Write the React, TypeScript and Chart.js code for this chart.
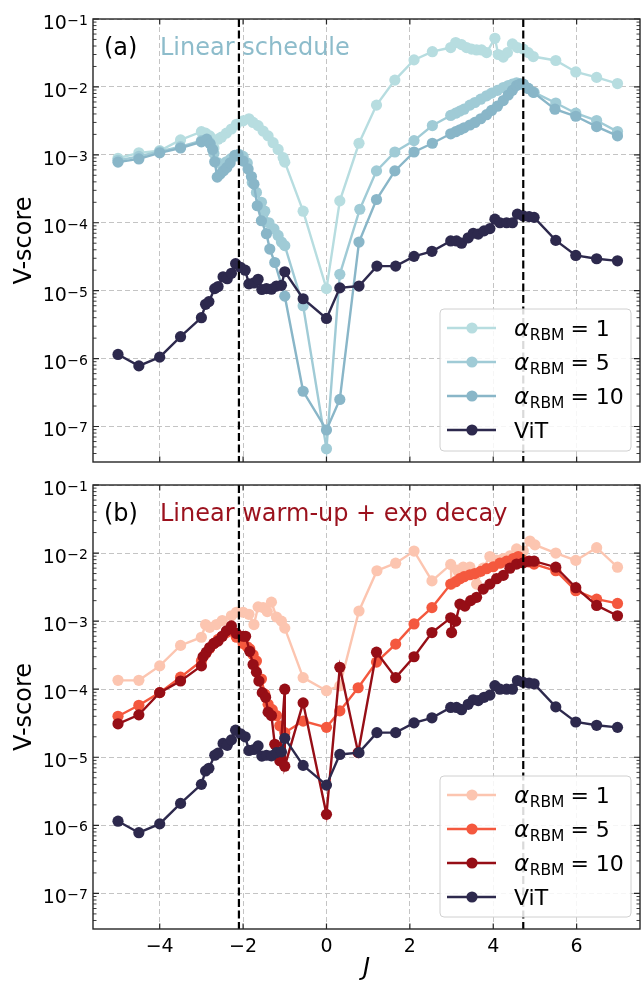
import React, { useEffect, useRef } from "react";
import { Chart, registerables } from "chart.js";

Chart.register(...registerables);

// ---------------- data ----------------
const VIT_J = [-5, -4.5, -4, -3.5, -3, -2.9, -2.82, -2.68, -2.6, -2.48, -2.38, -2.28, -2.18, -2.06, -1.95, -1.86, -1.74, -1.64, -1.55, -1.44, -1.32, -1.2, -1.08, -1.0, -0.56, 0, 0.32, 0.78, 1.21, 1.66, 2.1, 2.53, 2.98, 3.12, 3.24, 3.4, 3.52, 3.64, 3.78, 3.92, 4.04, 4.16, 4.32, 4.46, 4.58, 4.72, 4.86, 4.98, 5.5, 5.98, 6.48, 6.98];
const VIT_V = [1.15e-6, 7.8e-7, 1.05e-6, 2.1e-6, 4.0e-6, 6.3e-6, 6.9e-6, 1.07e-5, 1.15e-5, 1.6e-5, 1.5e-5, 1.8e-5, 2.5e-5, 2.2e-5, 2.0e-5, 1.26e-5, 1.3e-5, 1.47e-5, 1.04e-5, 1.07e-5, 1.05e-5, 1.17e-5, 1.2e-5, 1.9e-5, 7.6e-6, 3.9e-6, 1.1e-5, 1.17e-5, 2.3e-5, 2.3e-5, 3.2e-5, 3.8e-5, 5.4e-5, 5.4e-5, 5.0e-5, 6.0e-5, 7.0e-5, 6.8e-5, 7.6e-5, 8.2e-5, 1.13e-4, 1.0e-4, 1.0e-4, 1.0e-4, 1.34e-4, 1.26e-4, 1.23e-4, 1.2e-4, 5.5e-5, 3.3e-5, 2.95e-5, 2.75e-5];

// (a) linear schedule
const LIN_A1_J = [-5, -4.5, -4, -3.5, -3, -2.9, -2.8, -2.7, -2.6, -2.52, -2.4, -2.28, -2.16, -2.0, -1.86, -1.76, -1.64, -1.52, -1.4, -1.28, -1.16, -1.04, -1.0, -0.56, 0, 0.32, 0.78, 1.2, 1.64, 2.1, 2.54, 2.98, 3.1, 3.24, 3.36, 3.48, 3.6, 3.72, 3.84, 4.04, 4.12, 4.24, 4.34, 4.46, 4.58, 4.72, 4.84, 4.96, 5.5, 5.98, 6.48, 6.98];
const LIN_A1_V = [8.9e-4, 1.07e-3, 1.15e-3, 1.66e-3, 2.19e-3, 2.09e-3, 1.9e-3, 1.26e-3, 1.7e-3, 1.82e-3, 2.09e-3, 2.4e-3, 2.82e-3, 3.16e-3, 3.39e-3, 3.0e-3, 2.69e-3, 2.24e-3, 1.9e-3, 1.51e-3, 1.2e-3, 9.1e-4, 7.8e-4, 1.48e-4, 1.07e-5, 2.1e-4, 1.48e-3, 5.4e-3, 1.26e-2, 2.5e-2, 3.3e-2, 3.8e-2, 4.5e-2, 4.2e-2, 3.8e-2, 3.6e-2, 3.5e-2, 3.5e-2, 3.2e-2, 5.2e-2, 3.0e-2, 2.75e-2, 3.2e-2, 4.3e-2, 3.8e-2, 3.6e-2, 3.2e-2, 2.8e-2, 2.45e-2, 1.66e-2, 1.38e-2, 1.12e-2];
const LIN_A5_J = [-5, -4.5, -4, -3.5, -3, -2.9, -2.8, -2.7, -2.6, -2.5, -2.4, -2.3, -2.2, -2.1, -2.0, -1.9, -1.78, -1.68, -1.56, -1.48, -1.38, -1.26, -1.16, -1.08, -1.0, -0.56, 0, 0.32, 0.8, 1.2, 1.64, 2.1, 2.54, 2.98, 3.1, 3.2, 3.3, 3.44, 3.56, 3.7, 3.84, 3.96, 4.1, 4.24, 4.36, 4.46, 4.56, 4.64, 4.72, 4.84, 4.98, 5.5, 5.98, 6.48, 6.98];
const LIN_A5_V = [8.3e-4, 9.5e-4, 1.12e-3, 1.32e-3, 1.62e-3, 1.66e-3, 1.51e-3, 1.05e-3, 7.6e-4, 7.1e-4, 7.9e-4, 8.7e-4, 9.5e-4, 1.02e-3, 9.5e-4, 7.6e-4, 3.9e-4, 2.8e-4, 2.0e-4, 1.48e-4, 1.0e-4, 8.1e-5, 6.5e-5, 5.2e-5, 4.6e-5, 6.0e-6, 4.7e-8, 1.74e-5, 1.58e-4, 5.8e-4, 1.1e-3, 1.62e-3, 2.7e-3, 3.8e-3, 4.1e-3, 4.4e-3, 4.7e-3, 5.4e-3, 5.9e-3, 6.6e-3, 7.4e-3, 8.1e-3, 8.9e-3, 9.8e-3, 1.05e-2, 1.1e-2, 1.15e-2, 1.12e-2, 1.1e-2, 9.5e-3, 8.3e-3, 5.8e-3, 4.1e-3, 3.2e-3, 2.2e-3];
const LIN_A10_J = [-5, -4.5, -4, -3.5, -3, -2.87, -2.79, -2.73, -2.68, -2.62, -2.55, -2.47, -2.39, -2.31, -2.2, -2.12, -2.0, -1.88, -1.8, -1.74, -1.66, -1.56, -1.44, -1.36, -1.24, -1.0, -0.56, 0, 0.32, 0.78, 1.2, 1.64, 2.1, 2.54, 2.98, 3.1, 3.2, 3.3, 3.44, 3.56, 3.7, 3.84, 3.96, 4.1, 4.24, 4.36, 4.46, 4.56, 4.64, 4.72, 4.84, 4.96, 5.48, 5.98, 6.48, 6.98];
const LIN_A10_V = [7.8e-4, 8.7e-4, 1.07e-3, 1.26e-3, 1.55e-3, 1.7e-3, 1.45e-3, 1.2e-3, 7.9e-4, 4.7e-4, 5.2e-4, 5.8e-4, 6.5e-4, 7.6e-4, 9.8e-4, 1.0e-3, 8.1e-4, 6.2e-4, 4.8e-4, 3.7e-4, 1.78e-4, 1.07e-4, 6.9e-5, 4.1e-5, 2.6e-5, 8.3e-6, 3.3e-7, 8.9e-8, 2.5e-7, 5.2e-5, 2.2e-4, 5.8e-4, 1.1e-3, 1.48e-3, 2.04e-3, 2.19e-3, 2.34e-3, 2.5e-3, 2.75e-3, 3.0e-3, 3.4e-3, 3.9e-3, 4.5e-3, 5.2e-3, 6.3e-3, 7.6e-3, 8.9e-3, 1.05e-2, 1.1e-2, 1.1e-2, 9.5e-3, 8.3e-3, 4.7e-3, 3.7e-3, 2.6e-3, 1.9e-3];

// (b) linear warm-up + exp decay
const EXP_A1_J = [-5, -4.5, -4, -3.5, -3, -2.9, -2.8, -2.64, -2.5, -2.28, -2.16, -2.0, -1.86, -1.74, -1.64, -1.52, -1.42, -1.32, -1.2, -1.08, -1.0, -0.56, 0, 0.32, 0.78, 1.21, 1.66, 2.1, 2.53, 2.98, 3.0, 3.14, 3.28, 3.44, 3.6, 3.76, 3.92, 4.08, 4.24, 4.4, 4.56, 4.72, 4.88, 5.0, 5.5, 5.98, 6.48, 6.98];
const EXP_A1_V = [1.35e-4, 1.35e-4, 2.2e-4, 4.4e-4, 5.8e-4, 8.9e-4, 8.1e-4, 8.9e-4, 1.02e-3, 1.2e-3, 1.35e-3, 1.35e-3, 1.26e-3, 8.9e-4, 1.62e-3, 1.58e-3, 1.38e-3, 1.9e-3, 1.15e-3, 1.0e-3, 7.9e-4, 1.48e-4, 9.5e-5, 1.12e-4, 1.41e-3, 5.5e-3, 7.1e-3, 1.07e-2, 3.9e-3, 6.8e-3, 3.5e-3, 5.6e-3, 6.2e-3, 6.2e-3, 3.5e-3, 6.0e-3, 8.9e-3, 7.9e-3, 8.3e-3, 9.1e-3, 1.15e-2, 1.07e-2, 1.5e-2, 1.32e-2, 1.0e-2, 7.8e-3, 1.2e-2, 6.2e-3];
const EXP_A5_J = [-5, -4.5, -4, -3.5, -3, -2.9, -2.8, -2.7, -2.6, -2.5, -2.4, -2.3, -2.16, -2.0, -1.9, -1.84, -1.76, -1.68, -1.56, -1.48, -1.4, -1.3, -1.2, -1.12, -1.0, -0.56, 0, 0.32, 0.76, 1.2, 1.66, 2.1, 2.53, 2.98, 3.1, 3.2, 3.3, 3.44, 3.56, 3.7, 3.84, 4.0, 4.16, 4.32, 4.48, 4.6, 4.72, 4.86, 4.98, 5.5, 5.98, 6.48, 6.98];
const EXP_A5_V = [4.0e-5, 5.8e-5, 8.9e-5, 1.5e-4, 2.6e-4, 3.3e-4, 4.0e-4, 4.7e-4, 5.4e-4, 6.0e-4, 6.8e-4, 7.2e-4, 5.8e-4, 4.7e-4, 4.2e-4, 3.9e-4, 3.2e-4, 2.6e-4, 1.41e-4, 8.5e-5, 6.0e-5, 5.0e-5, 4.1e-5, 2.9e-5, 2.3e-5, 3.4e-5, 2.75e-5, 4.8e-5, 1.05e-4, 2.5e-4, 4.6e-4, 9.1e-4, 1.58e-3, 3.5e-3, 3.8e-3, 4.2e-3, 4.5e-3, 4.8e-3, 5.0e-3, 5.4e-3, 5.9e-3, 6.3e-3, 7.1e-3, 7.6e-3, 8.3e-3, 8.9e-3, 7.8e-3, 7.4e-3, 6.9e-3, 5.5e-3, 2.8e-3, 2.1e-3, 1.82e-3];
const EXP_A10_J = [-5, -4.5, -4, -3.5, -3, -2.96, -2.88, -2.8, -2.7, -2.6, -2.5, -2.4, -2.28, -2.16, -2.0, -1.94, -1.84, -1.76, -1.68, -1.62, -1.54, -1.46, -1.4, -1.32, -1.24, -1.12, -1.0, -1.0, -0.56, 0, 0.32, 0.76, 1.2, 1.66, 2.1, 2.53, 2.98, 3.0, 3.1, 3.2, 3.32, 3.46, 3.6, 3.76, 3.92, 4.08, 4.24, 4.4, 4.56, 4.72, 4.86, 4.98, 5.5, 5.98, 6.48, 6.98];
const EXP_A10_V = [3.1e-5, 4.2e-5, 8.9e-5, 1.32e-4, 2.2e-4, 3.0e-4, 3.5e-4, 4.1e-4, 4.7e-4, 5.1e-4, 6.0e-4, 7.2e-4, 8.5e-4, 6.6e-4, 6.0e-4, 6.0e-4, 3.6e-4, 2.3e-4, 1.78e-4, 1.32e-4, 8.9e-5, 7.6e-5, 4.6e-5, 4.1e-5, 1.55e-5, 8.9e-6, 1.0e-4, 7.4e-6, 6.3e-5, 1.45e-6, 2.1e-4, 1.17e-5, 3.5e-4, 1.48e-4, 3.0e-4, 6.8e-4, 1.12e-3, 6.8e-4, 1.0e-3, 1.78e-3, 1.66e-3, 2.0e-3, 2.24e-3, 2.95e-3, 3.5e-3, 4.2e-3, 4.7e-3, 6.0e-3, 6.9e-3, 7.2e-3, 7.6e-3, 7.6e-3, 6.2e-3, 3.1e-3, 1.7e-3, 1.2e-3];

const X_MIN = -5.6;
const X_MAX = 7.52;
const Y_MIN = 3.1623e-8;
const Y_MAX = 0.1;
const X_TICKS = [-4, -2, 0, 2, 4, 6];
const X_TICK_LABELS = ["\u22124", "\u22122", "0", "2", "4", "6"];
const Y_TICKS = [1e-7, 1e-6, 1e-5, 1e-4, 1e-3, 1e-2, 1e-1];
const Y_TICK_EXPONENTS = ["\u22127", "\u22126", "\u22125", "\u22124", "\u22123", "\u22122", "\u22121"];
const CRITICAL_J = [-2.1, 4.72];
const ALPHA_VALUES = ["1", "5", "10"];

// ---------------- drawing ----------------
const FONT = '"DejaVu Sans", Verdana, sans-serif';
const W = 641;

type Series = { xs: number[]; ys: number[]; color: string; label: string | null };
type PanelCfg = {
  top: number;
  height: number;
  padTop: number;
  xAxisH: number;
  series: Series[];
  tag: string;
  title: string;
  titleColor: string;
  legendY: number;
  legendH: number;
  showXLabels: boolean;
};

function drawLegend(ctx: CanvasRenderingContext2D, cfg: PanelCfg) {
  const x = 440, y = cfg.legendY, w = 191, h = cfg.legendH, r = 4;
  ctx.save();
  ctx.beginPath();
  ctx.moveTo(x + r, y);
  ctx.lineTo(x + w - r, y);
  ctx.quadraticCurveTo(x + w, y, x + w, y + r);
  ctx.lineTo(x + w, y + h - r);
  ctx.quadraticCurveTo(x + w, y + h, x + w - r, y + h);
  ctx.lineTo(x + r, y + h);
  ctx.quadraticCurveTo(x, y + h, x, y + h - r);
  ctx.lineTo(x, y + r);
  ctx.quadraticCurveTo(x, y, x + r, y);
  ctx.closePath();
  ctx.fillStyle = "rgba(255,255,255,0.85)";
  ctx.fill();
  ctx.strokeStyle = "#d0d0d0";
  ctx.lineWidth = 1;
  ctx.stroke();

  cfg.series.forEach((s, i) => {
    const cy = y + 19 + i * 34;
    ctx.strokeStyle = s.color;
    ctx.lineWidth = 2.4;
    ctx.setLineDash([]);
    ctx.beginPath();
    ctx.moveTo(447, cy);
    ctx.lineTo(496, cy);
    ctx.stroke();
    ctx.fillStyle = s.color;
    ctx.beginPath();
    ctx.arc(472, cy, 5.6, 0, Math.PI * 2);
    ctx.fill();

    ctx.fillStyle = "#000";
    ctx.textAlign = "left";
    ctx.textBaseline = "alphabetic";
    const base = cy + 8;
    if (s.label === null) {
      ctx.font = `22px ${FONT}`;
      ctx.fillText("ViT", 514, base);
    } else {
      let cx = 514;
      ctx.font = `italic 23px ${FONT}`;
      ctx.fillText("\u03b1", cx, base);
      cx += ctx.measureText("\u03b1").width + 0.5;
      ctx.font = `15.5px ${FONT}`;
      ctx.fillText("RBM", cx, base + 4);
      cx += ctx.measureText("RBM").width + 6;
      ctx.font = `22px ${FONT}`;
      ctx.fillText("=", cx, base);
      cx += ctx.measureText("=").width + 7;
      ctx.fillText(s.label, cx, base);
    }
  });
  ctx.restore();
}

function makeDecorPlugin(cfg: PanelCfg) {
  return {
    id: "decor",
    afterDatasetsDraw(chart: any) {
      const ctx = chart.ctx as CanvasRenderingContext2D;
      const a = chart.chartArea;
      const xs = chart.scales.x;
      ctx.save();
      ctx.strokeStyle = "#000";
      ctx.lineWidth = 2.2;
      ctx.setLineDash([8, 3.5]);
      CRITICAL_J.forEach((j) => {
        const px = xs.getPixelForValue(j);
        ctx.beginPath();
        ctx.moveTo(px, a.top);
        ctx.lineTo(px, a.bottom);
        ctx.stroke();
      });
      ctx.restore();
    },
    afterDraw(chart: any) {
      const ctx = chart.ctx as CanvasRenderingContext2D;
      const a = chart.chartArea;
      const xs = chart.scales.x;
      const ys = chart.scales.y;
      ctx.save();
      ctx.setLineDash([]);
      // spines
      ctx.strokeStyle = "#262626";
      ctx.lineWidth = 1.4;
      ctx.strokeRect(a.left, a.top, a.right - a.left, a.bottom - a.top);
      // x ticks (inward, top & bottom)
      ctx.lineWidth = 1.2;
      X_TICKS.forEach((v) => {
        const px = xs.getPixelForValue(v);
        ctx.beginPath();
        ctx.moveTo(px, a.bottom);
        ctx.lineTo(px, a.bottom - 5.5);
        ctx.moveTo(px, a.top);
        ctx.lineTo(px, a.top + 5.5);
        ctx.stroke();
      });
      // y ticks major + minor (inward, left & right)
      for (let d = -8; d <= -1; d++) {
        for (let k = 1; k <= 9; k++) {
          const v = k * Math.pow(10, d);
          if (v < Y_MIN * 0.999 || v > Y_MAX * 1.001) continue;
          const py = ys.getPixelForValue(v);
          const len = k === 1 ? 6 : 3.5;
          ctx.lineWidth = k === 1 ? 1.2 : 0.9;
          ctx.beginPath();
          ctx.moveTo(a.left, py);
          ctx.lineTo(a.left + len, py);
          ctx.moveTo(a.right, py);
          ctx.lineTo(a.right - len, py);
          ctx.stroke();
        }
      }
      // y tick labels
      ctx.fillStyle = "#000";
      ctx.textBaseline = "alphabetic";
      ctx.textAlign = "right";
      Y_TICKS.forEach((v, i) => {
        const py = ys.getPixelForValue(v);
        ctx.font = `14px ${FONT}`;
        const ew = ctx.measureText(Y_TICK_EXPONENTS[i]).width;
        ctx.fillText(Y_TICK_EXPONENTS[i], a.left - 5, py + 6);
        ctx.font = `19px ${FONT}`;
        ctx.fillText("10", a.left - 5 - ew - 0.5, py + 10);
      });
      // x tick labels
      if (cfg.showXLabels) {
        ctx.textAlign = "center";
        ctx.font = `19px ${FONT}`;
        X_TICKS.forEach((v, i) => {
          ctx.fillText(X_TICK_LABELS[i], xs.getPixelForValue(v), a.bottom + 23);
        });
        ctx.font = `italic 24px ${FONT}`;
        ctx.fillText("J", (a.left + a.right) / 2, a.bottom + 46);
      }
      // y axis label
      ctx.save();
      ctx.translate(31, (a.top + a.bottom) / 2);
      ctx.rotate(-Math.PI / 2);
      ctx.textAlign = "center";
      ctx.font = `24px ${FONT}`;
      ctx.fillText("V-score", 0, 0);
      ctx.restore();
      // panel tag + title
      ctx.textAlign = "left";
      ctx.font = `24px ${FONT}`;
      ctx.fillStyle = "#000";
      ctx.fillText(cfg.tag, 104, a.top + 36);
      ctx.fillStyle = cfg.titleColor;
      ctx.fillText(cfg.title, 160, a.top + 36);
      ctx.restore();
      drawLegend(ctx, cfg);
    },
  };
}

function Panel({ cfg }: { cfg: PanelCfg }) {
  const ref = useRef<HTMLCanvasElement | null>(null);
  useEffect(() => {
    const canvas = ref.current;
    if (!canvas) return;
    const n = cfg.series.length;
    const datasets = cfg.series.map((s, i) => ({
      label: s.label ?? "ViT",
      data: s.xs.map((x, k) => ({ x, y: s.ys[k] })),
      borderColor: s.color,
      backgroundColor: s.color,
      pointBackgroundColor: s.color,
      pointBorderWidth: 0,
      pointRadius: 5.6,
      borderWidth: 2.4,
      tension: 0,
      order: n - i,
    }));
    const grid = { color: "#c4c4c4", lineWidth: 1, drawTicks: false };
    const border = { display: false, dash: [5, 3] };
    const chart = new Chart(canvas, {
      type: "line",
      data: { datasets },
      options: {
        animation: false,
        responsive: false,
        devicePixelRatio: 1,
        events: [],
        layout: { autoPadding: false, padding: { top: cfg.padTop, right: 1, left: 0, bottom: 0 } },
        plugins: { legend: { display: false }, tooltip: { enabled: false } },
        scales: {
          x: {
            type: "linear",
            min: X_MIN,
            max: X_MAX,
            ticks: { display: false },
            grid,
            border,
            afterBuildTicks: (s: any) => {
              s.ticks = X_TICKS.map((v) => ({ value: v }));
            },
            afterFit: (s: any) => {
              s.height = cfg.xAxisH;
            },
          },
          y: {
            type: "logarithmic",
            min: Y_MIN,
            max: Y_MAX,
            ticks: { display: false },
            grid,
            border,
            afterBuildTicks: (s: any) => {
              s.ticks = Y_TICKS.map((v) => ({ value: v }));
            },
            afterFit: (s: any) => {
              s.width = 93;
            },
          },
        },
      } as any,
      plugins: [makeDecorPlugin(cfg)],
    });
    return () => chart.destroy();
  }, [cfg]);
  return (
    <canvas
      ref={ref}
      width={W}
      height={cfg.height}
      style={{ position: "absolute", left: 0, top: cfg.top, width: W, height: cfg.height }}
    />
  );
}

const TOP_CFG: PanelCfg = {
  top: 0,
  height: 472,
  padTop: 19,
  xAxisH: 10,
  series: [
    { xs: LIN_A1_J, ys: LIN_A1_V, color: "#b7dde0", label: ALPHA_VALUES[0] },
    { xs: LIN_A5_J, ys: LIN_A5_V, color: "#a0cbd6", label: ALPHA_VALUES[1] },
    { xs: LIN_A10_J, ys: LIN_A10_V, color: "#89b6c8", label: ALPHA_VALUES[2] },
    { xs: VIT_J, ys: VIT_V, color: "#2d294d", label: null },
  ],
  tag: "(a)",
  title: "Linear schedule",
  titleColor: "#8dbccb",
  legendY: 309,
  legendH: 142,
  showXLabels: false,
};

const BOTTOM_CFG: PanelCfg = {
  top: 472,
  height: 512,
  padTop: 13,
  xAxisH: 55,
  series: [
    { xs: EXP_A1_J, ys: EXP_A1_V, color: "#fcc5b0", label: ALPHA_VALUES[0] },
    { xs: EXP_A5_J, ys: EXP_A5_V, color: "#f4583e", label: ALPHA_VALUES[1] },
    { xs: EXP_A10_J, ys: EXP_A10_V, color: "#960e16", label: ALPHA_VALUES[2] },
    { xs: VIT_J, ys: VIT_V, color: "#2d294d", label: null },
  ],
  tag: "(b)",
  title: "Linear warm-up + exp decay",
  titleColor: "#9b111d",
  legendY: 304,
  legendH: 141,
  showXLabels: true,
};

export default function App() {
  return (
    <div
      style={{
        position: "absolute",
        left: 0,
        top: 0,
        width: W,
        height: 984,
        background: "#fff",
        overflow: "hidden",
      }}
    >
      <Panel cfg={TOP_CFG} />
      <Panel cfg={BOTTOM_CFG} />
    </div>
  );
}
